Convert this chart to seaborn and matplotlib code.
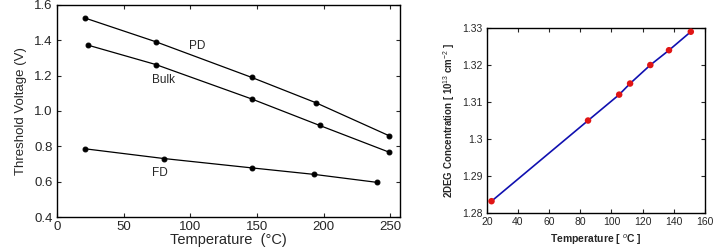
import numpy as np
import pandas as pd
import matplotlib
matplotlib.use("Agg")
import matplotlib.pyplot as plt
import seaborn as sns

# left panel: threshold voltage vs temperature
pd_temp = [21, 74, 146, 194, 249]
pd_vth = [1.526, 1.392, 1.190, 1.047, 0.860]
bulk_temp = [23, 74, 146, 197, 249]
bulk_vth = [1.373, 1.263, 1.068, 0.918, 0.767]
fd_temp = [21, 80, 146, 193, 240]
fd_vth = [0.786, 0.731, 0.678, 0.641, 0.596]

# right panel: 2DEG concentration vs temperature
deg_temp = [23, 85, 105, 112, 125, 137, 151]
deg_conc = [1.2832, 1.305, 1.312, 1.315, 1.320, 1.324, 1.329]

sns.set_style("ticks")
plt.rcParams['font.family'] = ['Liberation Sans', 'DejaVu Sans']
plt.rcParams['mathtext.fontset'] = 'custom'
plt.rcParams['mathtext.rm'] = 'Liberation Sans'
plt.rcParams['mathtext.it'] = 'Liberation Sans:italic'
plt.rcParams['mathtext.bf'] = 'Liberation Sans:bold'

fig = plt.figure(figsize=(7.17, 2.48), dpi=100)
ax1 = fig.add_axes([0.0795, 0.125, 0.478, 0.855])
ax2 = fig.add_axes([0.679, 0.141, 0.304, 0.746])

for t, v in [(pd_temp, pd_vth), (bulk_temp, bulk_vth), (fd_temp, fd_vth)]:
    sns.lineplot(x=t, y=v, ax=ax1, color='black', marker='o', markersize=3.5,
                 markeredgecolor='black', linewidth=0.9)

ax1.text(105, 1.367, "PD", fontsize=8.5, ha='center', va='center')
ax1.text(80, 1.174, "Bulk", fontsize=8.5, ha='center', va='center')
ax1.text(77, 0.65, "FD", fontsize=8.5, ha='center', va='center')

ax1.set_xlim(0, 257)
ax1.set_ylim(0.4, 1.6)
ax1.set_xticks([0, 50, 100, 150, 200, 250])
ax1.set_yticks([0.4, 0.6, 0.8, 1.0, 1.2, 1.4, 1.6])
ax1.set_yticklabels(["0.4", "0.6", "0.8", "1.0", "1.2", "1.4", "1.6"])
ax1.tick_params(direction='in', top=True, right=True, labelsize=9.5, length=3, pad=3)
ax1.set_xlabel("Temperature  (°C)", fontsize=10.5, labelpad=0)
ax1.set_ylabel("Threshold Voltage (V)", fontsize=9.5, labelpad=5)

sns.lineplot(x=deg_temp, y=deg_conc, ax=ax2, color='#1010b0', linewidth=1.2)
sns.scatterplot(x=deg_temp, y=deg_conc, ax=ax2, color='#e01515', s=22,
                edgecolor='none', zorder=3)

ax2.set_xlim(20, 160)
ax2.set_ylim(1.28, 1.33)
ax2.set_xticks(range(20, 161, 20))
ax2.set_yticks([1.28, 1.29, 1.30, 1.31, 1.32, 1.33])
ax2.set_yticklabels(["1.28", "1.29", "1.3", "1.31", "1.32", "1.33"])
ax2.tick_params(direction='in', top=True, right=True, labelsize=7.5, length=3, pad=3)
ax2.set_xlabel("Temperature [ $^{o}$C ]", fontsize=7.5, fontweight='bold', labelpad=4)
ax2.set_ylabel("2DEG Concentration [ 10$^{13}$ cm$^{-2}$ ]", fontsize=7,
               fontweight='bold', labelpad=4)

for ax in (ax1, ax2):
    for s in ax.spines.values():
        s.set_linewidth(1.0)
        s.set_color('black')

fig.savefig("out.png", dpi=100)
